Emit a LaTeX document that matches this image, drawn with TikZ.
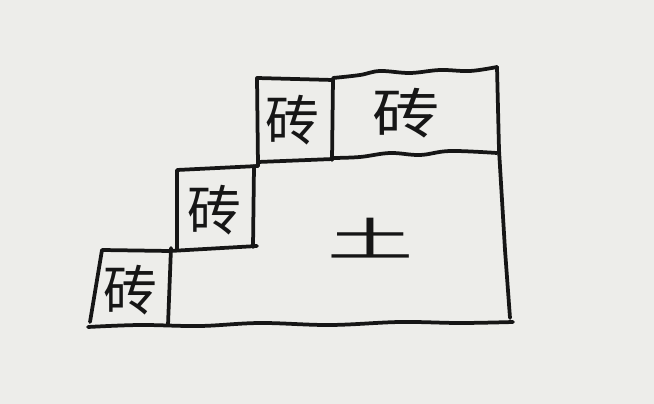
\documentclass[tikz,border=0pt]{standalone}
\usepackage{fontspec}
\newfontfamily\cjk{Noto Sans CJK SC}
\definecolor{paper}{RGB}{237,237,234}
\definecolor{ink}{RGB}{22,22,22}
\begin{document}
\begin{tikzpicture}[x=0.03cm,y=-0.03cm,
  pen/.style={draw=ink,line width=3.2pt,line cap=round,line join=round},
  lbl/.style={font=\cjk\fontsize{46}{46}\selectfont,text=ink,inner sep=0pt}]
\fill[paper] (0,0) rectangle (654,404);
\useasboundingbox (0,0) rectangle (654,404);
% bottom ground line
\draw[pen] plot[smooth,tension=0.6] coordinates {(88,327) (140,325) (200,326) (260,323) (330,325) (400,322) (460,323) (513,322)};
% box 1
\draw[pen] (90,322) -- (102,250) -- (170,251) -- (257,246);
\draw[pen] (171,248) -- (168,325);
% box 2
\draw[pen] (177,249) -- (177,170) -- (258,166);
\draw[pen] (254,166) -- (253,247);
% box 3
\draw[pen] (258,166) -- (257,78) -- (333,80);
\draw[pen] (333,79) -- (332,160);
\draw[pen] (258,162) -- (333,159);
% top right brick
\draw[pen] plot[smooth,tension=0.6] coordinates {(333,78) (360,75) (380,71) (410,73) (440,70) (470,71) (497,67)};
\draw[pen] plot[smooth,tension=0.6] coordinates {(333,158) (360,157) (390,153) (420,155) (450,151) (497,153)};
% right side
\draw[pen] (497,67) -- (499,150) -- (505,250) -- (510,318);
% labels
\node[lbl] (b1) at (130,290) {砖};
\node[lbl] (b2) at (214,210) {砖};
\node[lbl] (b3) at (292,120) {砖};
\node[lbl,xscale=1.25] (b4) at (406,113) {砖};
\node[lbl,xscale=1.6,yscale=0.85] (t) at (371,238) {土};
\end{tikzpicture}
\end{document}
